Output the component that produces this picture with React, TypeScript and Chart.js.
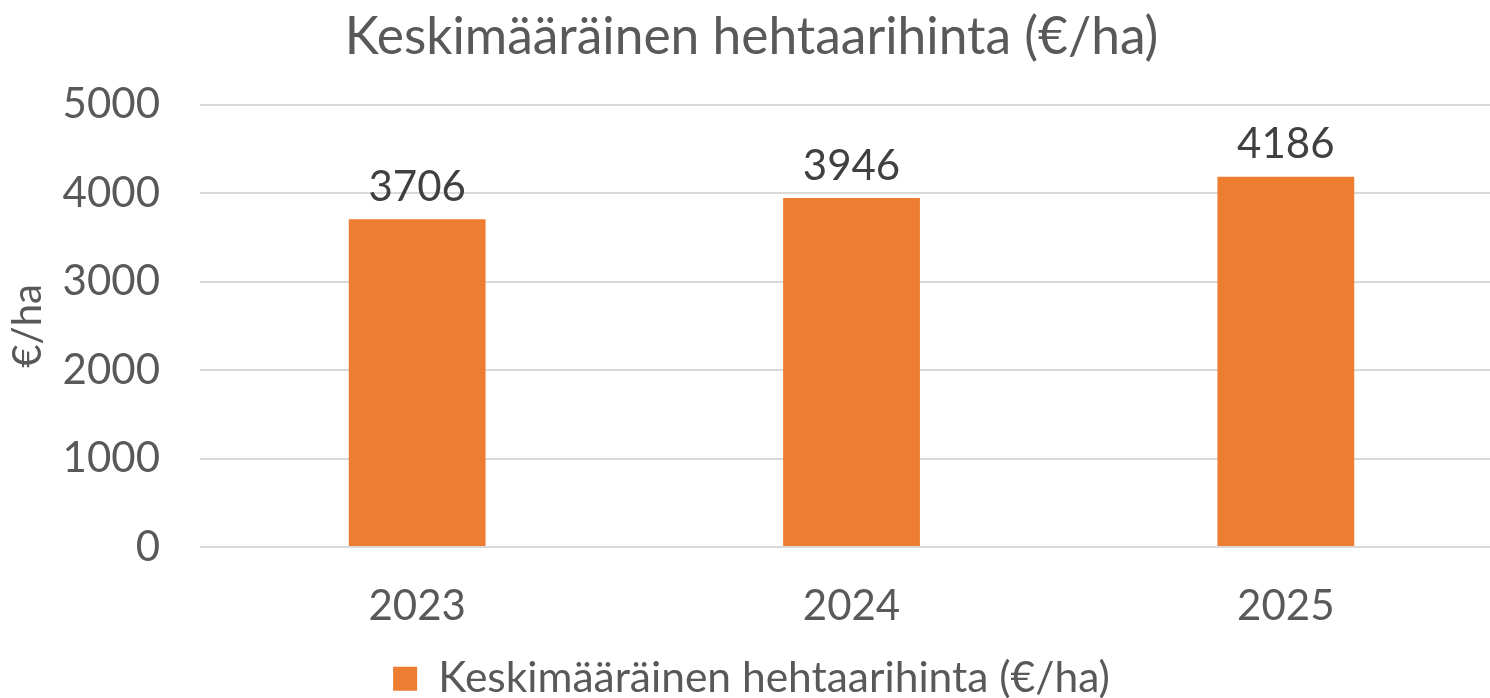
import React, { useEffect, useRef } from "react";
import { Chart, registerables } from "chart.js";

Chart.register(...registerables);

const categories = ["2023", "2024", "2025"];
const values = [3706, 3946, 4186];
const seriesName = "Keskimääräinen hehtaarihinta (€/ha)";
const chartTitle = "Keskimääräinen hehtaarihinta (€/ha)";
const yAxisTitle = "€/ha";

const FONT = "Lato, 'Open Sans', sans-serif";

const dataLabelPlugin = {
  id: "dataLabels",
  afterDatasetsDraw(chart: any) {
    const ctx = chart.ctx;
    const meta = chart.getDatasetMeta(0);
    ctx.save();
    ctx.fillStyle = "#404040";
    ctx.font = `42px ${FONT}`;
    ctx.textAlign = "center";
    ctx.textBaseline = "bottom";
    meta.data.forEach((bar: any, i: number) => {
      ctx.fillText(String(chart.data.datasets[0].data[i]), bar.x, bar.y - 11);
    });
    ctx.restore();
  },
};

export default function App() {
  const ref = useRef<HTMLCanvasElement>(null);
  useEffect(() => {
    document.body.style.margin = "0";
    document.body.style.overflow = "hidden";
    const chart = new Chart(ref.current!, {
      type: "bar",
      data: {
        labels: categories,
        datasets: [
          {
            label: seriesName,
            data: values,
            backgroundColor: "#ED7D31",
            categoryPercentage: 1,
            barPercentage: 0.315,
          },
        ],
      },
      options: {
        animation: false,
        responsive: false,
        layout: { padding: { left: 0, right: 2, top: 0, bottom: 0 } },
        plugins: {
          title: {
            display: true,
            text: chartTitle,
            color: "#595959",
            font: { family: FONT, size: 51.5, weight: "normal" },
            padding: { top: 6, bottom: 37 },
          },
          legend: {
            display: true,
            position: "bottom",
            labels: {
              color: "#595959",
              font: { family: FONT, size: 42.5 },
              boxWidth: 24,
              boxHeight: 24,
              padding: 0,
            },
          },
          tooltip: { enabled: false },
        },
        scales: {
          x: {
            grid: { display: false, drawTicks: false },
            border: { display: false },
            ticks: {
              color: "#595959",
              font: { family: FONT, size: 42 },
              padding: 34,
            },
            afterFit(scale: any) {
              scale.height = 110.5;
            },
          },
          y: {
            min: 0,
            max: 5000,
            ticks: {
              stepSize: 1000,
              color: "#595959",
              font: { family: FONT, size: 42 },
              padding: 40,
              callback: (v: any) => String(v),
            },
            grid: { color: "#D9D9D9", lineWidth: 2, drawTicks: false },
            border: { display: false },
            title: {
              display: true,
              text: yAxisTitle,
              color: "#595959",
              font: { family: FONT, size: 40 },
              padding: { top: 4, bottom: 0 },
            },
            afterFit(scale: any) {
              scale.width = 200;
            },
          },
        },
      },
      plugins: [dataLabelPlugin],
    });
    return () => chart.destroy();
  }, []);
  return (
    <div style={{ width: 1490, height: 698, overflow: "hidden" }}>
      <canvas ref={ref} width={1505} height={710} style={{ display: "block" }} />
    </div>
  );
}
